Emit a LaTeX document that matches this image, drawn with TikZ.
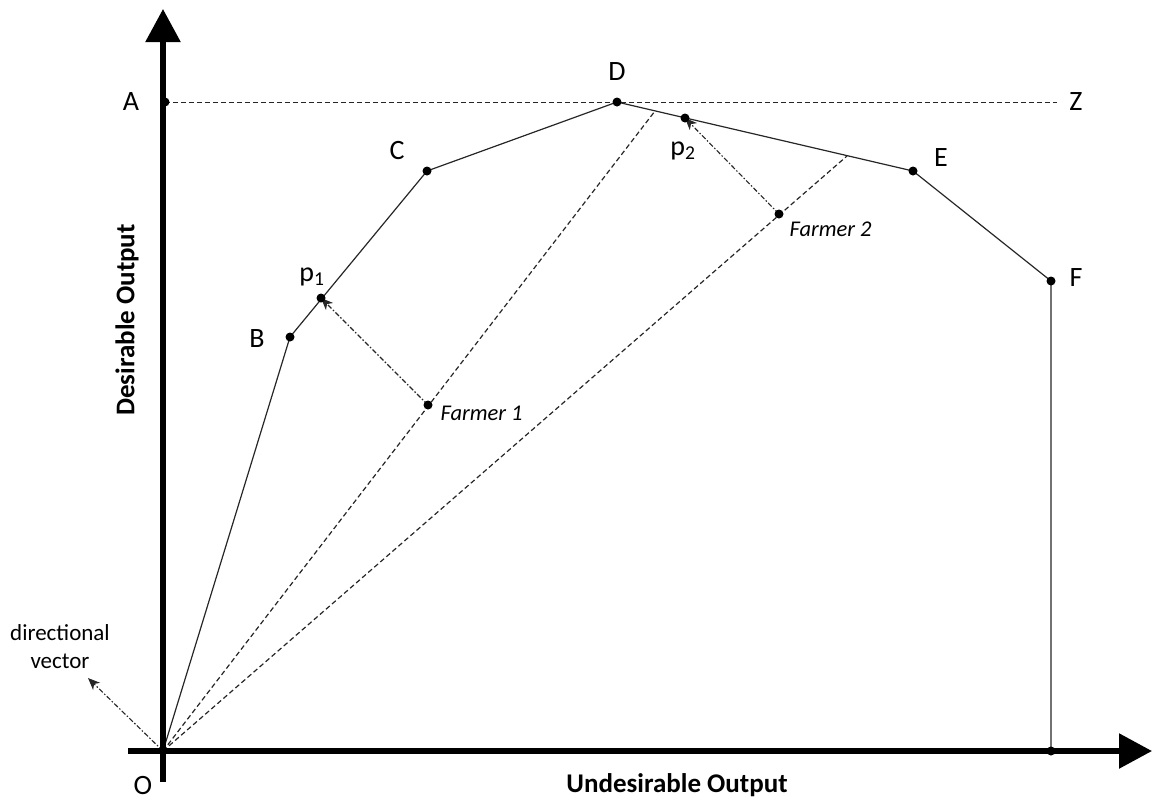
\documentclass[tikz,border=0pt]{standalone}
\usepackage{fontspec}
\setmainfont{Carlito}
\usetikzlibrary{arrows.meta}
\begin{document}
\begin{tikzpicture}[x=1pt,y=-1pt,
  axis/.style={line width=5.5pt,-{Triangle[length=33pt,width=34pt]}},
  frontier/.style={line width=1.2pt,draw=black!85},
  ray/.style={line width=1.2pt,dash pattern=on 5pt off 3pt,draw=black!85},
  proj/.style={line width=1.1pt,dash pattern=on 5pt off 2pt on 1.5pt off 2pt,draw=black!85,-{Stealth[length=12pt,width=10pt,inset=3.5pt]}},
  lbl/.style={font=\fontsize{28}{32}\selectfont},
  farm/.style={font=\itshape\fontsize{22.5}{26}\selectfont,anchor=west},
  axlbl/.style={font=\bfseries\fontsize{27}{32}\selectfont},
  dotpt/.style={circle,fill=black,inner sep=0pt,minimum size=9pt}]
\useasboundingbox (0,0) rectangle (1153,807);
% points
\coordinate (O) at (163,751);
\coordinate (A) at (165,102);
\coordinate (B) at (290,337);
\coordinate (C) at (427,171);
\coordinate (D) at (617,102);
\coordinate (E) at (913,171);
\coordinate (F) at (1051,281);
\coordinate (Fb) at (1051,751);
\coordinate (Zend) at (1057,102);
\coordinate (P1) at (321,298);
\coordinate (P2) at (685,118);
\coordinate (F1) at (428,405);
\coordinate (F2) at (779,214);
\coordinate (R1) at (655,111);
\coordinate (R2) at (847,156);
\coordinate (DV) at (88,678);
\coordinate (yb) at (163,782);
\coordinate (yt) at (163,9);
\coordinate (xl) at (128,751);
\coordinate (xr) at (1152,751);
% dashed line A - Z
\draw[line width=1pt,dash pattern=on 5pt off 3pt,draw=black!85] (A) -- (Zend);
% frontier
\draw[frontier] (O) -- (B) -- (C) -- (D) -- (E) -- (F) -- (Fb);
% rays
\draw[ray] (O) -- (R1);
\draw[ray] (O) -- (R2);
% projections
\draw[proj] (F1) -- (P1);
\draw[proj] (F2) -- (P2);
\draw[proj] (O) -- (DV);
% axes
\draw[axis] (yb) -- (yt);
\draw[axis] (xl) -- (xr);
% dots
\foreach \p in {A,B,C,D,E,F,Fb,P1,P2,F1,F2}
  \node[dotpt] (d\p) at (\p) {};
% labels
\node[lbl] (lA) at (131,102) {A};
\node[lbl] (lB) at (257,339) {B};
\node[lbl] (lC) at (397,151) {C};
\node[lbl] (lD) at (617,72) {D};
\node[lbl] (lE) at (941,158) {E};
\node[lbl] (lF) at (1076,278) {F};
\node[lbl] (lZ) at (1076,102) {Z};
\node[lbl] (lO) at (143,785) {O};
\node[lbl] (lp1) at (312,277) {p\textsubscript{1}};
\node[lbl] (lp2) at (683,151) {p\textsubscript{2}};
\node[farm] (lF1) at (437,413) {Farmer 1};
\node[farm] (lF2) at (786,229) {Farmer 2};
\node[font=\fontsize{23}{28}\selectfont,align=center] (ldv) at (60,647) {directional\\vector};
\node[axlbl,rotate=90] (ly) at (127,320) {Desirable Output};
\node[axlbl] (lx) at (677,785) {Undesirable Output};
\end{tikzpicture}
\end{document}
